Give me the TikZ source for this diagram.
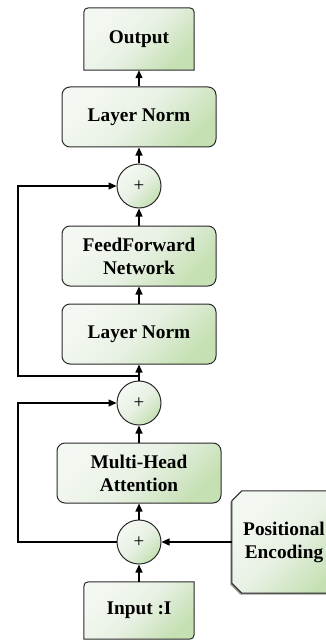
\documentclass[tikz,border=0pt]{standalone}
\usepackage{fontspec}
\setmainfont{Liberation Serif}
\usetikzlibrary{arrows.meta,backgrounds}
\definecolor{gtop}{HTML}{F4F8F2}
\definecolor{gmid}{HTML}{E8F1E4}
\definecolor{gbot}{HTML}{C5E0B3}
\definecolor{edge}{HTML}{2A2A2A}
\tikzset{
  greenfill/.style={top color=gtop, bottom color=gbot, middle color=gmid, shading angle=45},
  outline/.style={draw=edge, line width=1bp},
  label/.style={inner sep=0pt, align=center, font=\bfseries\fontsize{19.4}{23}\selectfont},
  block/.style={label, rectangle, outline, greenfill, rounded corners=8bp, minimum height=60bp},
  adder/.style={circle, outline, greenfill, minimum size=44bp, inner sep=0pt, font=\fontsize{19}{19}\selectfont},
  conn/.style={line width=1.2bp, draw=black, -{Triangle[length=8bp,width=7bp]}},
}
\begin{document}
\begin{tikzpicture}[x=1bp, y=-1bp]
\useasboundingbox (0,0) rectangle (325,642);

% text carriers for the custom-shaped boxes
\node[label, minimum width=110bp, minimum height=62bp] (out) at (139,39) {Output};
\node[label, minimum width=110bp, minimum height=57bp] (in) at (139,610.5) {Input :I};
\node[label, minimum width=104bp, minimum height=102bp] (pe) at (284,542) {Positional\\Encoding};

% main stack
\node[block, minimum width=154bp] (ln1) at (139,117) {Layer Norm};
\node[adder] (p1) at (139,186) {+};
\node[block, minimum width=154bp] (ff) at (139,256) {FeedForward\\Network};
\node[block, minimum width=154bp] (ln2) at (139,334) {Layer Norm};
\node[adder] (p2) at (139,403) {+};
\node[block, minimum width=164bp] (mha) at (139,473) {Multi-Head\\Attention};
\node[adder] (p3) at (139,542) {+};

% outlines of the custom-shaped boxes
\begin{scope}[on background layer]
  \fill[white] (0,0) rectangle (325,642);
  % output: rounded top, square bottom
  \path[outline, greenfill] (out.south west) -- ([yshift=-10bp]out.north west)
    .. controls (out.north west) .. ([xshift=10bp]out.north west)
    -- ([xshift=-10bp]out.north east)
    .. controls (out.north east) .. ([yshift=-10bp]out.north east)
    -- (out.south east) -- cycle;
  % input: rounded top-left and bottom-right corners
  \path[outline, greenfill] (in.north east) -- ([xshift=10bp]in.north west)
    .. controls (in.north west) .. ([yshift=-10bp]in.north west)
    -- (in.south west) -- ([xshift=-10bp]in.south east)
    .. controls (in.south east) .. ([yshift=10bp]in.south east) -- cycle;
  % positional encoding: snipped left corners with a soft shadow
  \path[fill=black!40] ([shift={(-1.5bp,-11.5bp)}]pe.north west)
    -- ([shift={(8.5bp,-1.5bp)}]pe.north west)
    -- ([shift={(10bp,-1.5bp)}]pe.north east)
    -- ([shift={(10bp,-1.5bp)}]pe.south east)
    -- ([shift={(8.5bp,-1.5bp)}]pe.south west)
    -- ([shift={(-1.5bp,8.5bp)}]pe.south west) -- cycle;
  \path[outline, greenfill] ([yshift=-10bp]pe.north west)
    -- ([xshift=10bp]pe.north west) -- ([xshift=10bp]pe.north east)
    -- ([xshift=10bp]pe.south east)
    -- ([xshift=10bp]pe.south west) -- ([yshift=10bp]pe.south west) -- cycle;
\end{scope}

% residual rails
\coordinate (j1) at (139,376);
\coordinate (l1) at (18,376);
\coordinate (l2) at (18,542);

% connectors
\draw[conn] (ln1.north) -- (out.south);
\draw[conn] (p1.north) -- (ln1.south);
\draw[conn] (ff.north) -- (p1.south);
\draw[conn] (ln2.north) -- (ff.south);
\draw[conn] (p2.north) -- (ln2.south);
\draw[conn] (mha.north) -- (p2.south);
\draw[conn] (p3.north) -- (mha.south);
\draw[conn] (in.north) -- (p3.south);
\draw[conn] (pe.west) -- (p3.east);
\draw[conn] (j1) -- (l1) |- (p1.west);
\draw[conn] (p3.west) -- (l2) |- (p2.west);
\end{tikzpicture}
\end{document}
